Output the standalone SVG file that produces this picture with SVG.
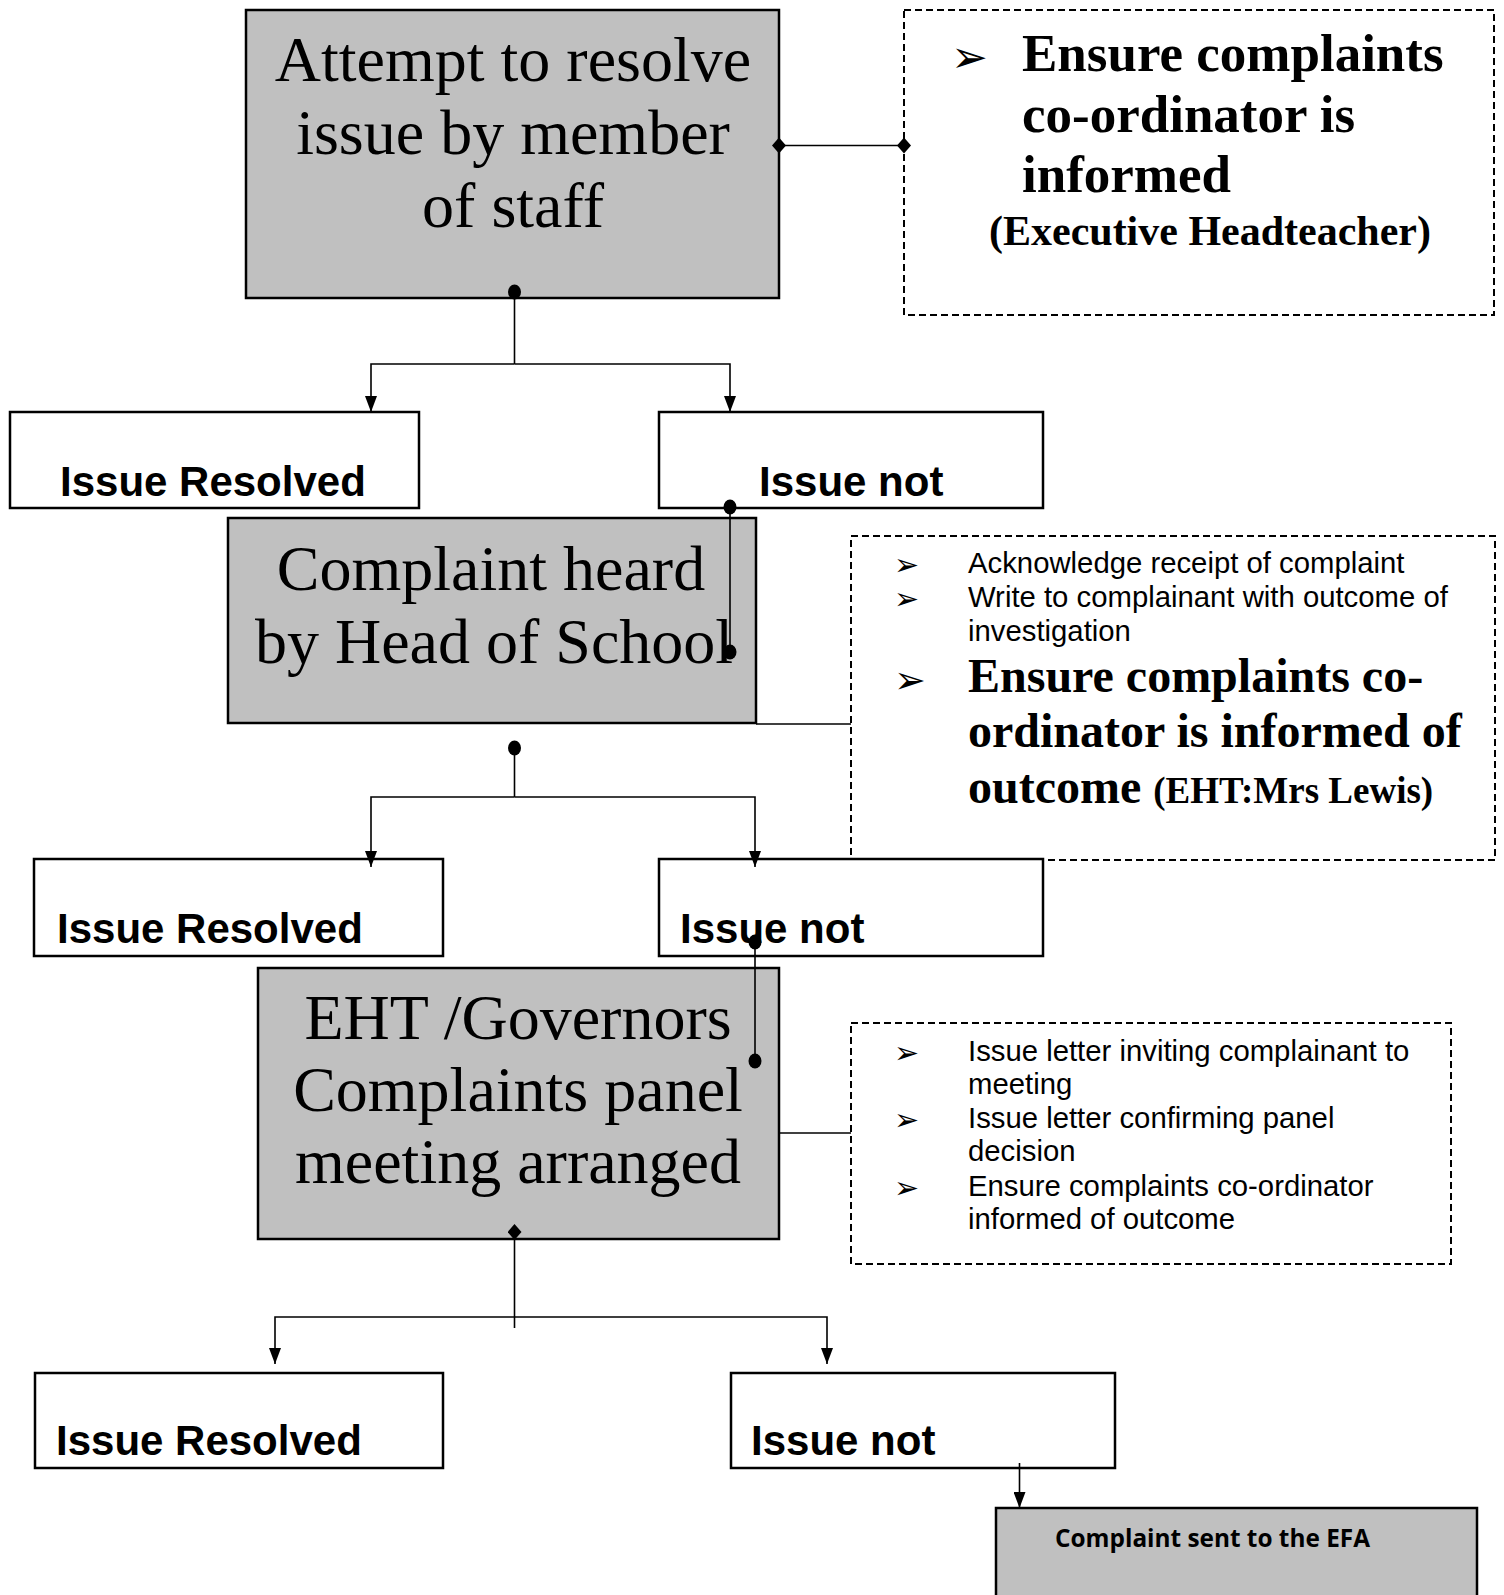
<svg xmlns="http://www.w3.org/2000/svg" width="1504" height="1595" viewBox="0 0 1504 1595">
<style>
.box{fill:#fff;stroke:#000;stroke-width:2.5}
.gbox{fill:#c0c0c0;stroke:#000;stroke-width:2.5}
.dbox{fill:none;stroke:#000;stroke-width:2;stroke-dasharray:7 4}
.big{font-family:"Liberation Serif","Times New Roman",serif;font-size:64px;fill:#000}
.bt{font-family:"Liberation Serif","Times New Roman",serif;font-weight:bold;fill:#000}
.lbl{font-family:"Liberation Sans",Arial,sans-serif;font-weight:bold;font-size:42px;fill:#000}
.sm{font-family:"Liberation Sans",Arial,sans-serif;font-size:29.3px;fill:#000}
.bul{font-family:"DejaVu Sans",sans-serif;font-weight:bold;fill:#000}
.conn{fill:none;stroke:#000;stroke-width:1.6}
</style>
<defs>
<marker id="arrow" viewBox="0 0 16 12" refX="16" refY="6" markerWidth="16" markerHeight="12" markerUnits="userSpaceOnUse" orient="auto"><path d="M0,0 L16,6 L0,12 z" fill="#000"/></marker>
<marker id="dot" viewBox="0 0 14 16" refX="7" refY="8" markerWidth="14" markerHeight="16" markerUnits="userSpaceOnUse"><ellipse cx="7" cy="8" rx="6.5" ry="7.5" fill="#000"/></marker>
<marker id="diamond" viewBox="0 0 14 16" refX="7" refY="8" markerWidth="14" markerHeight="16" markerUnits="userSpaceOnUse"><path d="M7,0 L14,8 L7,16 L0,8 z" fill="#000"/></marker>
</defs>

<g id="attempt">
<rect class="gbox" x="246" y="10" width="533" height="288"/>
<text class="big" text-anchor="middle" x="513" y="81">Attempt to resolve</text>
<text class="big" text-anchor="middle" x="513" y="154">issue by member</text>
<text class="big" text-anchor="middle" x="513" y="227">of staff</text>
</g>

<g id="note1">
<rect class="dbox" x="904" y="10" width="590" height="305"/>
<text class="bul" x="951" y="72" font-size="44">➢</text>
<text class="bt" x="1022" y="71" font-size="53px">Ensure complaints</text>
<text class="bt" x="1022" y="132" font-size="53px">co-ordinator is</text>
<text class="bt" x="1022" y="192" font-size="53px">informed</text>
<text class="bt" x="1210" y="245" font-size="42px" text-anchor="middle">(Executive Headteacher)</text>
</g>

<g id="resolved1">
<rect class="box" x="10" y="412" width="409" height="96"/>
<text class="lbl" x="60" y="496">Issue Resolved</text>
</g>

<g id="notresolved1">
<rect class="box" x="659" y="412" width="384" height="96"/>
<text class="lbl" x="759" y="496">Issue not</text>
</g>

<g id="headofschool">
<rect class="gbox" x="228" y="518" width="528" height="205"/>
<text class="big" text-anchor="middle" x="491" y="590">Complaint heard</text>
<text class="big" text-anchor="middle" x="494" y="663">by Head of School</text>
</g>

<g id="note2">
<rect class="dbox" x="851" y="536" width="644" height="324"/>
<text class="bul" x="894" y="575" font-size="30">➢</text>
<text class="sm" x="968" y="573">Acknowledge receipt of complaint</text>
<text class="bul" x="894" y="609" font-size="30">➢</text>
<text class="sm" x="968" y="607">Write to complainant with outcome of</text>
<text class="sm" x="968" y="641">investigation</text>
<text class="bul" x="894" y="693" font-size="38">➢</text>
<text class="bt" x="968" y="692" font-size="48px">Ensure complaints co-</text>
<text class="bt" x="968" y="747" font-size="48px">ordinator is informed of</text>
<text class="bt" x="968" y="803" font-size="48px">outcome <tspan font-size="37px">(EHT:Mrs Lewis)</tspan></text>
</g>

<g id="resolved2">
<rect class="box" x="34" y="859" width="409" height="97"/>
<text class="lbl" x="57" y="943">Issue Resolved</text>
</g>

<g id="notresolved2">
<rect class="box" x="659" y="859" width="384" height="97"/>
<text class="lbl" x="680" y="943">Issue not</text>
</g>

<g id="panel">
<rect class="gbox" x="258" y="968" width="521" height="271"/>
<text class="big" text-anchor="middle" x="518" y="1039">EHT /Governors</text>
<text class="big" text-anchor="middle" x="518" y="1111">Complaints panel</text>
<text class="big" text-anchor="middle" x="518" y="1183">meeting arranged</text>
</g>

<g id="note3">
<rect class="dbox" x="851" y="1023" width="600" height="241"/>
<text class="bul" x="894" y="1063" font-size="30">➢</text>
<text class="sm" x="968" y="1061">Issue letter inviting complainant to</text>
<text class="sm" x="968" y="1094">meeting</text>
<text class="bul" x="894" y="1130" font-size="30">➢</text>
<text class="sm" x="968" y="1128">Issue letter confirming panel</text>
<text class="sm" x="968" y="1161">decision</text>
<text class="bul" x="894" y="1198" font-size="30">➢</text>
<text class="sm" x="968" y="1196">Ensure complaints co-ordinator</text>
<text class="sm" x="968" y="1229">informed of outcome</text>
</g>

<g id="resolved3">
<rect class="box" x="35" y="1373" width="408" height="95"/>
<text class="lbl" x="56" y="1455">Issue Resolved</text>
</g>

<g id="notresolved3">
<rect class="box" x="731" y="1373" width="384" height="95"/>
<text class="lbl" x="751" y="1455">Issue not</text>
</g>

<g id="efa">
<rect class="gbox" x="996" y="1508" width="481" height="100"/>
<text x="1055" y="1547" font-family="'Open Sans','Noto Sans',sans-serif" font-weight="bold" font-size="25" textLength="315" lengthAdjust="spacingAndGlyphs">Complaint sent to the EFA</text>
</g>

<g id="connectors">
<path class="conn" d="M779,145.5 H904" marker-start="url(#diamond)" marker-end="url(#diamond)"/>
<path class="conn" d="M514.5,292 V364" marker-start="url(#dot)"/>
<path class="conn" d="M514.5,364 H371 V412" marker-end="url(#arrow)"/>
<path class="conn" d="M514.5,364 H730 V412" marker-end="url(#arrow)"/>
<path class="conn" d="M730,507 V652" marker-start="url(#dot)" marker-end="url(#dot)"/>
<path class="conn" d="M756,724 H851"/>
<path class="conn" d="M514.5,748 V797" marker-start="url(#dot)"/>
<path class="conn" d="M514.5,797 H371 V867" marker-end="url(#arrow)"/>
<path class="conn" d="M514.5,797 H755 V867" marker-end="url(#arrow)"/>
<path class="conn" d="M755,942 V1061" marker-start="url(#dot)" marker-end="url(#dot)"/>
<path class="conn" d="M779,1133 H851"/>
<path class="conn" d="M514.5,1232 V1328" marker-start="url(#diamond)"/>
<path class="conn" d="M514.5,1317 H275 V1364" marker-end="url(#arrow)"/>
<path class="conn" d="M514.5,1317 H827 V1364" marker-end="url(#arrow)"/>
<path class="conn" d="M1019.5,1463 V1508" marker-end="url(#arrow)"/>
</g>
</svg>
